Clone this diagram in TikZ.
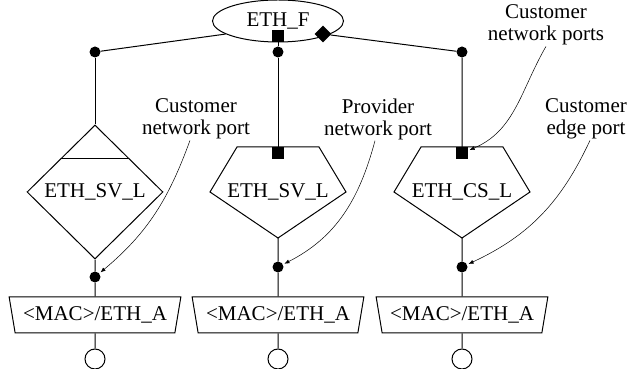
\documentclass[tikz,border=0pt]{standalone}
\usepackage{fontspec}
\setmainfont{Liberation Serif}
\usetikzlibrary{shapes.geometric,arrows.meta,positioning,calc}

\begin{document}
\begin{tikzpicture}[x=1pt, y=1pt, font=\fontsize{21}{22}\selectfont,
  fn/.style={ellipse, draw, line width=1pt, minimum width=131pt, minimum height=42pt, inner sep=0pt},
  lay/.style={diamond, draw, line width=1pt, minimum width=136pt, minimum height=134pt, inner sep=0pt},
  adapt/.style={trapezium, draw, line width=1pt, trapezium stretches=true,
    trapezium left angle=72, trapezium right angle=72, shape border rotate=180,
    minimum width=172pt, minimum height=36pt, inner sep=0pt},
  sq/.style={rectangle, fill=black, minimum size=12pt, inner sep=0pt},
  pdot/.style={circle, fill=black, minimum size=11pt, inner sep=0pt},
  ap/.style={circle, draw, line width=1pt, minimum size=20pt, inner sep=0pt},
  lbl/.style={align=center, inner sep=1pt},
  wire/.style={line width=1pt},
  callout/.style={-{Latex[length=5pt,width=4pt]}, line width=0.5pt, shorten >=1.5pt}]
\useasboundingbox (0,0) rectangle (633,369);
% flow function and its ports
\node[fn] (ethf) at (278,348) {ETH\_F};
\node[sq, anchor=south] (pf) at (ethf.south) {};
\node[sq, rotate=45] (pd) at (323,335) {};
\foreach \n/\x in {1/95,2/278,3/462} \node[pdot] (t\n) at (\x,317) {};
% layer functions
\node[lay] (sv1) at (95,177) {ETH\_SV\_L};
\draw[wire] ($(sv1.north)!0.5!(sv1.west)$) -- ($(sv1.north)!0.5!(sv1.east)$);
\node[lbl] (sv2) at (278,177) {ETH\_SV\_L};
\node[lbl] (cs) at (462,177) {ETH\_CS\_L};
\foreach \p in {sv2,cs} {
  \draw[wire] ($(\p)+(-41,45)$) -- ($(\p)+(41,45)$) -- ($(\p)+(68,0)$)
    -- ($(\p)+(0,-46)$) -- ($(\p)+(-68,0)$) -- cycle;
  \coordinate (\p-n) at ($(\p)+(0,45)$);
  \coordinate (\p-s) at ($(\p)+(0,-46)$);
}
\node[sq, anchor=north] (q2) at (sv2-n) {};
\node[sq, anchor=north] (q3) at (cs-n) {};
% adaptation functions and access points
\node[pdot] (b1) at (95,92) {};
\node[pdot] (b2) at (278,102) {};
\node[pdot] (b3) at (462,102) {};
\foreach \n/\x in {1/95,2/278,3/462} {
  \node[adapt] (m\n) at (\x,54) {<MAC>/ETH\_A};
  \node[ap] (ap\n) at (\x,10) {};
}
% links
\draw[wire] (ethf.194) -- (t1);
\draw[wire] (pf) -- (t2) -- (q2);
\draw[wire] (pd) -- (t3) -- (q3);
\draw[wire] (t1) -- (sv1);
\foreach \s/\n in {sv1/1,sv2-s/2,cs-s/3} \draw[wire] (\s) -- (b\n) -- (m\n) -- (ap\n);
% port labels
\node[lbl] (l1) at (196,250) {Customer\\network port};
\node[lbl] (l2) at (378,250) {Provider\\network port};
\node[lbl] (l3) at (546,344) {Customer\\network ports};
\node[lbl] (l4) at (586,250) {Customer\\edge port};
\draw[callout] ([xshift=-6pt]l1.south) to[out=250,in=40] (b1);
\draw[callout] ([xshift=-3pt]l2.south) to[out=255,in=27] (b2);
\draw[callout] (l3.south) to[out=240,in=23] (q3);
\draw[callout] ([xshift=4pt]l4.south) to[out=245,in=25] (b3);
\end{tikzpicture}
\end{document}
